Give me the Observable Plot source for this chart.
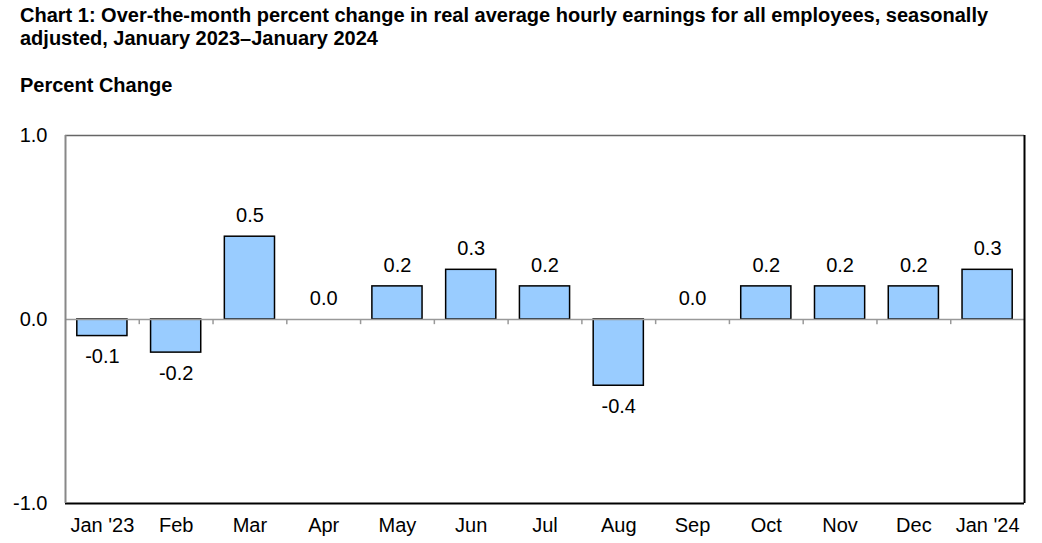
<!DOCTYPE html>
<html>
<head>
<meta charset="utf-8">
<script src="https://cdn.jsdelivr.net/npm/d3@7"></script>
<script src="https://cdn.jsdelivr.net/npm/@observablehq/plot@0.6"></script>
<style>
  html, body { margin: 0; padding: 0; background: #fff; }
  body { width: 1042px; height: 543px; overflow: hidden; font-family: "Liberation Sans", Arial, sans-serif; position: relative; }
  #title { position: absolute; left: 20px; top: 4px; font-weight: bold; font-size: 20px; line-height: 23px; color: #000; }
  #ylabel { position: absolute; left: 20px; top: 74px; font-weight: bold; font-size: 20px; color: #000; }
  #chart { position: absolute; left: 0; top: 120px; }
</style>
</head>
<body>
<div id="title">Chart 1: Over-the-month percent change in real average hourly earnings for all employees, seasonally<br>adjusted, January 2023–January 2024</div>
<div id="ylabel">Percent Change</div>
<div id="chart"></div>
<script>
const months = ["Jan '23", "Feb", "Mar", "Apr", "May", "Jun", "Jul", "Aug", "Sep", "Oct", "Nov", "Dec", "Jan '24"];
const values = [-0.09, -0.18, 0.45, 0.0, 0.18, 0.27, 0.18, -0.36, 0.0, 0.18, 0.18, 0.18, 0.27];
const labels = ["-0.1", "-0.2", "0.5", "0.0", "0.2", "0.3", "0.2", "-0.4", "0.0", "0.2", "0.2", "0.2", "0.3"];
const yTicks = [-1, 0, 1];

const data = months.map((m, i) => ({month: m, value: values[i], label: labels[i]}));

const width = 1042, height = 423;
const marginLeft = 65, marginRight = 18, marginTop = 15, marginBottom = 40;
const step = (width - marginLeft - marginRight) / months.length;
const fmt = d => d3.format(".1f")(d).replace("\u2212", "-");

const chart = Plot.plot({
  width, height, marginLeft, marginRight, marginTop, marginBottom,
  style: {fontFamily: "'Liberation Sans', Arial, sans-serif", fontSize: "20px", color: "#000", background: "#fff"},
  x: {domain: months, paddingInner: 0.32, paddingOuter: 0.16, round: false, label: null, tickSize: 0, tickPadding: 14},
  y: {domain: [-1, 1], ticks: yTicks, tickFormat: fmt, label: null, tickSize: 0, tickPadding: 18},
  marks: [
    Plot.barY(data, {x: "month", y: "value", fill: "#99ccff", stroke: "#000", strokeWidth: 1.5}),
    Plot.ruleY([0], {stroke: "#999", strokeWidth: 1.5}),
    Plot.ruleX(months.slice(1), {x: d => d, y1: 0, y2: -0.028, dx: -step / 2, stroke: "#999", strokeWidth: 1.5}),
    Plot.text(data.filter(d => d.value >= 0), {x: "month", y: "value", text: "label", dy: -21, lineAnchor: "middle", fontSize: 20}),
    Plot.text(data.filter(d => d.value < 0), {x: "month", y: "value", text: "label", dy: 21, lineAnchor: "middle", fontSize: 20}),
    Plot.ruleY([1], {stroke: "#666", strokeWidth: 1.5}),
    Plot.ruleY([-1], {stroke: "#000", strokeWidth: 2}),
    Plot.ruleX([months[0]], {x: d => d, y1: -1, y2: 1, dx: -step / 2, stroke: "#888", strokeWidth: 2}),
    Plot.ruleX([months[months.length - 1]], {x: d => d, y1: -1, y2: 1, dx: step / 2, stroke: "#000", strokeWidth: 2})
  ]
});
document.getElementById("chart").appendChild(chart);
</script>
</body>
</html>
